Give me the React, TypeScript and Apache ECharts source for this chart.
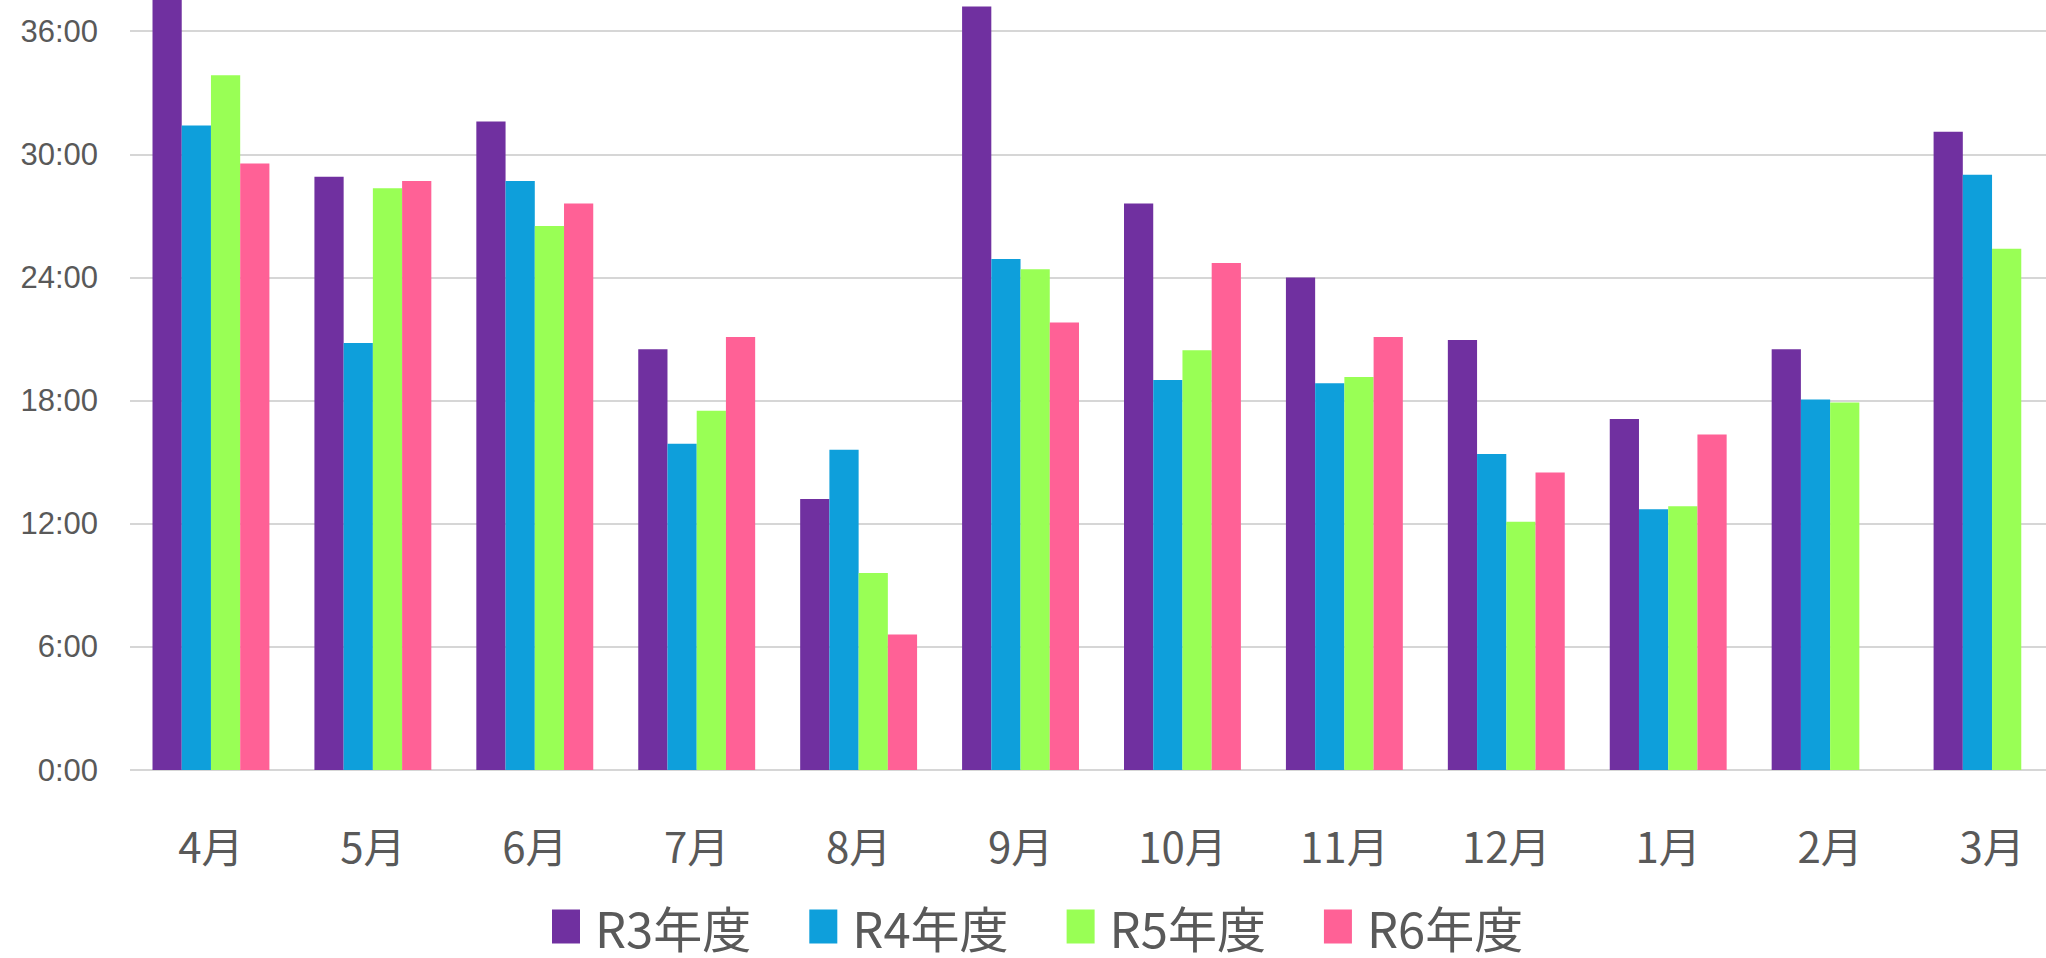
import React, { useEffect, useRef } from "react";
import * as echarts from "echarts";

// Monthly hours per fiscal year (April through March)
const months = ["4月", "5月", "6月", "7月", "8月", "9月", "10月", "11月", "12月", "1月", "2月", "3月"];
const seriesNames = ["R3年度", "R4年度", "R5年度", "R6年度"];
const r3 = [38.7, 28.9, 31.6, 20.5, 13.2, 37.2, 27.6, 24.0, 20.95, 17.1, 20.5, 31.1];
const r4 = [31.4, 20.8, 28.7, 15.9, 15.6, 24.9, 19.0, 18.85, 15.4, 12.7, 18.05, 29.0];
const r5 = [33.85, 28.35, 26.5, 17.5, 9.6, 24.4, 20.45, 19.15, 12.1, 12.85, 17.9, 25.4];
const r6 = [29.55, 28.7, 27.6, 21.1, 6.6, 21.8, 24.7, 21.1, 14.5, 16.35, null, null];
const colors = ["#7030A0", "#0E9FDB", "#99FF55", "#FF6196"];

// The plot runs past the top and right edges of the visible frame,
// so the chart canvas is larger than the frame and offset inside it.
const FRAME_W = 2046;
const FRAME_H = 958;
const OVER_TOP = 92;
const OVER_RIGHT = 27;

const fmtHour = (v: number) => (v > 37.5 ? "" : `${Math.round(v)}:00`);

export default function App() {
  const ref = useRef<HTMLDivElement>(null);

  useEffect(() => {
    if (!ref.current) return;
    const chart = echarts.init(ref.current, undefined, { renderer: "svg" });
    const values = [r3, r4, r5, r6];
    chart.setOption({
      animation: false,
      backgroundColor: "#ffffff",
      color: colors,
      grid: { left: 130, right: 0, top: 0, bottom: 188, containLabel: false },
      legend: {
        left: 552,
        top: 902 + OVER_TOP,
        padding: 0,
        icon: "rect",
        itemWidth: 28,
        itemHeight: 34,
        itemGap: 58,
        data: seriesNames,
        textStyle: {
          fontSize: 49,
          lineHeight: 46,
          color: "#595959",
          fontFamily: "'Liberation Sans Narrow', 'Noto Sans CJK JP', sans-serif",
          padding: [0, 0, 0, 10],
        },
      },
      xAxis: {
        type: "category",
        data: months,
        axisTick: { show: false },
        axisLine: { show: false },
        axisLabel: {
          margin: 53,
          fontSize: 42,
          color: "#595959",
          fontFamily: "'Liberation Sans Narrow', 'Noto Sans CJK JP', sans-serif",
        },
      },
      yAxis: {
        type: "value",
        min: 0,
        max: 42,
        interval: 6,
        axisLine: { show: false },
        axisTick: { show: false },
        axisLabel: {
          margin: 32,
          fontSize: 31,
          color: "#595959",
          fontFamily: "'Liberation Sans', 'Noto Sans CJK JP', sans-serif",
          formatter: fmtHour,
        },
        splitLine: { lineStyle: { color: "#d6d6d6", width: 2 } },
      },
      series: seriesNames.map((name, i) => ({
        name,
        type: "bar",
        data: values[i],
        barGap: "0%",
        barCategoryGap: "27.8%",
        itemStyle: { color: colors[i] },
      })),
    });
    return () => chart.dispose();
  }, []);

  return (
    <div
      style={{
        position: "fixed",
        left: 0,
        top: 0,
        width: FRAME_W,
        height: FRAME_H,
        overflow: "hidden",
        background: "#ffffff",
      }}
    >
      <div
        ref={ref}
        style={{
          position: "absolute",
          left: 0,
          top: -OVER_TOP,
          width: FRAME_W + OVER_RIGHT,
          height: FRAME_H + OVER_TOP,
        }}
      />
    </div>
  );
}
